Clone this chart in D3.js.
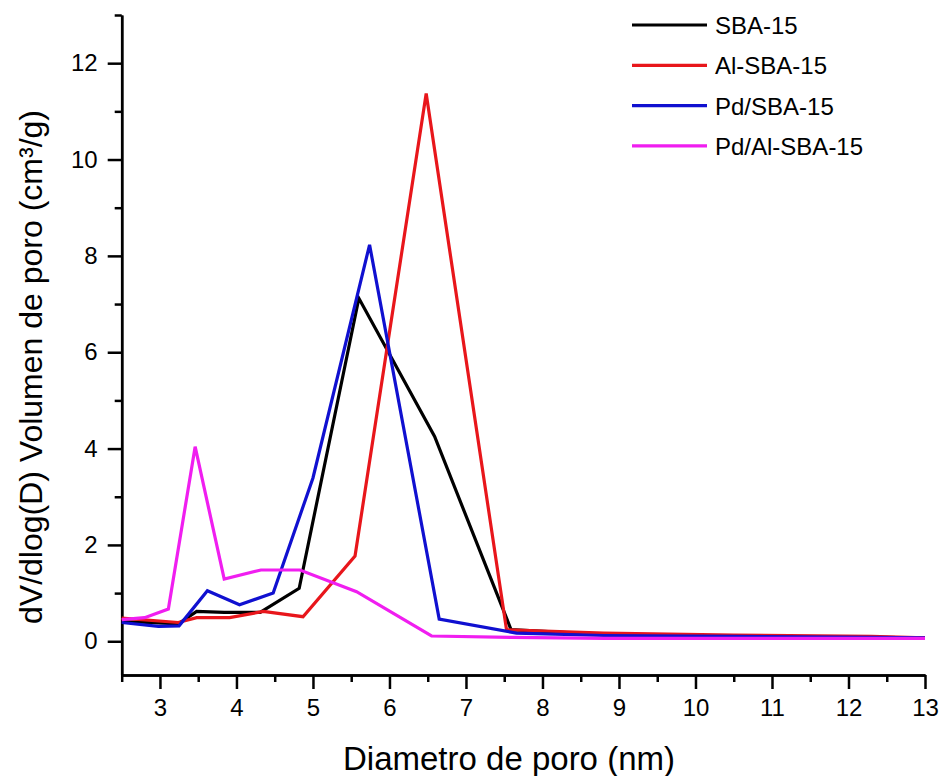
<!DOCTYPE html>
<html lang="es">
  <head>
    <meta charset="utf-8">
    <title>Distribucion de poro</title>
    <script src="https://d3js.org/d3.v7.min.js"></script>
    <style>
      body { margin: 0; background: #fff; }
      text { font-family: "Liberation Sans", Arial, sans-serif; fill: #000; }
    </style>
  </head>

  <body>

    <script>

// data (pore diameter in nm, dV/dlog(D) in cm3/g)

  var seriesNames = ["SBA-15", "Al-SBA-15", "Pd/SBA-15", "Pd/Al-SBA-15"];
  var seriesColors = ["#000000", "#e8161b", "#1010d0", "#f01ef0"];

  var sbaX = [2.5, 2.98, 3.24, 3.48, 3.84, 4.31, 4.82, 5.60, 6.59, 7.59, 8.8, 10.5, 12.3, 13];
  var sbaY = [0.41, 0.38, 0.36, 0.62, 0.60, 0.60, 1.10, 7.12, 4.25, 0.24, 0.14, 0.10, 0.08, 0.07];

  var alX = [2.5, 3.24, 3.48, 3.91, 4.35, 4.87, 5.55, 6.48, 7.53, 8.8, 10.5, 12.3, 13];
  var alY = [0.48, 0.39, 0.49, 0.49, 0.62, 0.51, 1.77, 11.37, 0.24, 0.17, 0.13, 0.10, 0.07];

  var pdX = [2.5, 2.98, 3.25, 3.62, 4.04, 4.48, 5.00, 5.74, 6.65, 7.66, 8.8, 10.5, 12.3, 13];
  var pdY = [0.39, 0.31, 0.32, 1.05, 0.76, 1.00, 3.39, 8.23, 0.46, 0.17, 0.12, 0.10, 0.08, 0.07];

  var pdAlX = [2.5, 2.80, 3.11, 3.46, 3.84, 4.32, 4.83, 5.57, 6.55, 7.6, 8.8, 10.5, 12.3, 13];
  var pdAlY = [0.45, 0.49, 0.67, 4.04, 1.29, 1.48, 1.48, 1.03, 0.11, 0.08, 0.06, 0.06, 0.06, 0.06];

  var xMajor = [3, 4, 5, 6, 7, 8, 9, 10, 11, 12, 13];
  var xMinor = [2.5, 3.5, 4.5, 5.5, 6.5, 7.5, 8.5, 9.5, 10.5, 11.5, 12.5];
  var yMajor = [0, 2, 4, 6, 8, 10, 12];
  var yMinor = [1, 3, 5, 7, 9, 11, 13];

  var allX = [sbaX, alX, pdX, pdAlX];
  var allY = [sbaY, alY, pdY, pdAlY];

// svg and scales

  var svg = d3.select("body")
    .append("svg")
      .attr("width", 943)
      .attr("height", 776);

  var x = d3.scaleLinear().domain([2.5, 13]).range([121.7, 925]);
  var y = d3.scaleLinear().domain([-0.7, 13]).range([675, 15]);

// axes

  function styleAxis(g) {
    g.select(".domain").attr("stroke", "#000").attr("stroke-width", 2.5);
    g.selectAll(".tick line").attr("stroke", "#000").attr("stroke-width", 2.5);
  }

  svg.append("g")
      .attr("transform", "translate(0,675)")
      .call(d3.axisBottom(x).tickValues(xMinor).tickSize(7).tickSizeOuter(0).tickFormat(""))
      .call(styleAxis);

  svg.append("g")
      .attr("transform", "translate(0,675)")
      .call(d3.axisBottom(x).tickValues(xMajor).tickSize(14).tickSizeOuter(0).tickPadding(10))
      .call(styleAxis)
      .call(g => g.selectAll(".tick text")
        .attr("font-size", 24)
        .attr("font-family", "Liberation Sans, Arial, sans-serif"));

  svg.append("g")
      .attr("transform", "translate(121.7,0)")
      .call(d3.axisLeft(y).tickValues(yMinor).tickSize(7).tickSizeOuter(0).tickFormat(""))
      .call(styleAxis);

  svg.append("g")
      .attr("transform", "translate(121.7,0)")
      .call(d3.axisLeft(y).tickValues(yMajor).tickSize(14).tickSizeOuter(0).tickPadding(10))
      .call(styleAxis)
      .call(g => g.selectAll(".tick text")
        .attr("font-size", 24)
        .attr("font-family", "Liberation Sans, Arial, sans-serif"));

// axis titles

  svg.append("text")
      .attr("x", 509)
      .attr("y", 770)
      .attr("text-anchor", "middle")
      .attr("font-size", 33)
      .text("Diametro de poro (nm)");

  svg.append("text")
      .attr("transform", "translate(42,367) rotate(-90)")
      .attr("text-anchor", "middle")
      .attr("font-size", 32)
      .text("dV/dlog(D) Volumen de poro (cm³/g)");

// lines

  var line = d3.line()
      .x(d => x(d[0]))
      .y(d => y(d[1]));

  seriesNames.forEach(function (name, i) {
    var pts = allX[i].map((v, j) => [v, allY[i][j]]);
    svg.append("path")
        .datum(pts)
        .attr("fill", "none")
        .attr("stroke", seriesColors[i])
        .attr("stroke-width", 3.2)
        .attr("stroke-linejoin", "miter")
        .attr("d", line);
  });

// legend

  var legend = svg.append("g");

  seriesNames.forEach(function (name, i) {
    var ly = 25 + i * 40.3;
    legend.append("line")
        .attr("x1", 632).attr("x2", 707)
        .attr("y1", ly).attr("y2", ly)
        .attr("stroke", seriesColors[i])
        .attr("stroke-width", 3.2);
    legend.append("text")
        .attr("x", 715)
        .attr("y", ly + 9)
        .attr("font-size", 24)
        .text(name);
  });

    </script>

  </body>

</html>
